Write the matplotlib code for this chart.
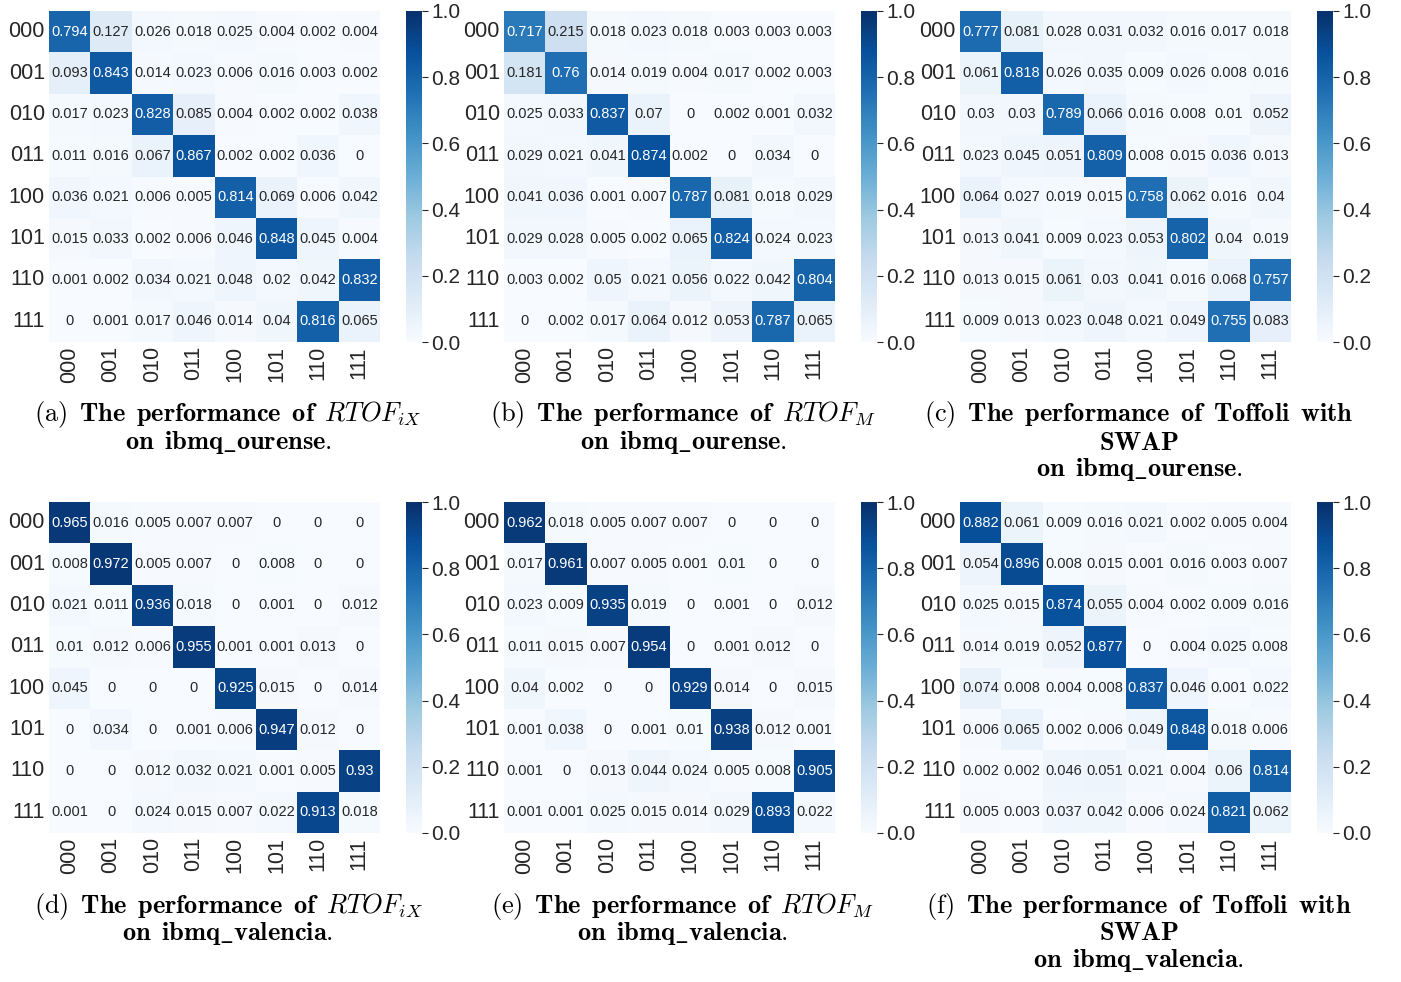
import numpy as np
import matplotlib
matplotlib.use("Agg")
import matplotlib.pyplot as plt
import seaborn as sns

states = ["000", "001", "010", "011", "100", "101", "110", "111"]

ourense_rtof_ix = [
    [0.794, 0.127, 0.026, 0.018, 0.025, 0.004, 0.002, 0.004],
    [0.093, 0.843, 0.014, 0.023, 0.006, 0.016, 0.003, 0.002],
    [0.017, 0.023, 0.828, 0.085, 0.004, 0.002, 0.002, 0.038],
    [0.011, 0.016, 0.067, 0.867, 0.002, 0.002, 0.036, 0],
    [0.036, 0.021, 0.006, 0.005, 0.814, 0.069, 0.006, 0.042],
    [0.015, 0.033, 0.002, 0.006, 0.046, 0.848, 0.045, 0.004],
    [0.001, 0.002, 0.034, 0.021, 0.048, 0.02, 0.042, 0.832],
    [0, 0.001, 0.017, 0.046, 0.014, 0.04, 0.816, 0.065],
]
ourense_rtof_m = [
    [0.717, 0.215, 0.018, 0.023, 0.018, 0.003, 0.003, 0.003],
    [0.181, 0.76, 0.014, 0.019, 0.004, 0.017, 0.002, 0.003],
    [0.025, 0.033, 0.837, 0.07, 0, 0.002, 0.001, 0.032],
    [0.029, 0.021, 0.041, 0.874, 0.002, 0, 0.034, 0],
    [0.041, 0.036, 0.001, 0.007, 0.787, 0.081, 0.018, 0.029],
    [0.029, 0.028, 0.005, 0.002, 0.065, 0.824, 0.024, 0.023],
    [0.003, 0.002, 0.05, 0.021, 0.056, 0.022, 0.042, 0.804],
    [0, 0.002, 0.017, 0.064, 0.012, 0.053, 0.787, 0.065],
]
ourense_toffoli_swap = [
    [0.777, 0.081, 0.028, 0.031, 0.032, 0.016, 0.017, 0.018],
    [0.061, 0.818, 0.026, 0.035, 0.009, 0.026, 0.008, 0.016],
    [0.03, 0.03, 0.789, 0.066, 0.016, 0.008, 0.01, 0.052],
    [0.023, 0.045, 0.051, 0.809, 0.008, 0.015, 0.036, 0.013],
    [0.064, 0.027, 0.019, 0.015, 0.758, 0.062, 0.016, 0.04],
    [0.013, 0.041, 0.009, 0.023, 0.053, 0.802, 0.04, 0.019],
    [0.013, 0.015, 0.061, 0.03, 0.041, 0.016, 0.068, 0.757],
    [0.009, 0.013, 0.023, 0.048, 0.021, 0.049, 0.755, 0.083],
]
valencia_rtof_ix = [
    [0.965, 0.016, 0.005, 0.007, 0.007, 0, 0, 0],
    [0.008, 0.972, 0.005, 0.007, 0, 0.008, 0, 0],
    [0.021, 0.011, 0.936, 0.018, 0, 0.001, 0, 0.012],
    [0.01, 0.012, 0.006, 0.955, 0.001, 0.001, 0.013, 0],
    [0.045, 0, 0, 0, 0.925, 0.015, 0, 0.014],
    [0, 0.034, 0, 0.001, 0.006, 0.947, 0.012, 0],
    [0, 0, 0.012, 0.032, 0.021, 0.001, 0.005, 0.93],
    [0.001, 0, 0.024, 0.015, 0.007, 0.022, 0.913, 0.018],
]
valencia_rtof_m = [
    [0.962, 0.018, 0.005, 0.007, 0.007, 0, 0, 0],
    [0.017, 0.961, 0.007, 0.005, 0.001, 0.01, 0, 0],
    [0.023, 0.009, 0.935, 0.019, 0, 0.001, 0, 0.012],
    [0.011, 0.015, 0.007, 0.954, 0, 0.001, 0.012, 0],
    [0.04, 0.002, 0, 0, 0.929, 0.014, 0, 0.015],
    [0.001, 0.038, 0, 0.001, 0.01, 0.938, 0.012, 0.001],
    [0.001, 0, 0.013, 0.044, 0.024, 0.005, 0.008, 0.905],
    [0.001, 0.001, 0.025, 0.015, 0.014, 0.029, 0.893, 0.022],
]
valencia_toffoli_swap = [
    [0.882, 0.061, 0.009, 0.016, 0.021, 0.002, 0.005, 0.004],
    [0.054, 0.896, 0.008, 0.015, 0.001, 0.016, 0.003, 0.007],
    [0.025, 0.015, 0.874, 0.055, 0.004, 0.002, 0.009, 0.016],
    [0.014, 0.019, 0.052, 0.877, 0, 0.004, 0.025, 0.008],
    [0.074, 0.008, 0.004, 0.008, 0.837, 0.046, 0.001, 0.022],
    [0.006, 0.065, 0.002, 0.006, 0.049, 0.848, 0.018, 0.006],
    [0.002, 0.002, 0.046, 0.051, 0.021, 0.004, 0.06, 0.814],
    [0.005, 0.003, 0.037, 0.042, 0.006, 0.024, 0.821, 0.062],
]

sp = r"\ \,"  # wide inter-word space, like the justified LaTeX captions
captions = [
    [rf"$\mathrm{{(a)}}{sp}\mathbf{{The{sp}performance{sp}of}}{sp}RTOF_{{iX}}$",
     rf"$\mathbf{{on{sp}ibmq\_ourense.}}$"],
    [rf"$\mathrm{{(b)}}{sp}\mathbf{{The{sp}performance{sp}of}}{sp}RTOF_{{M}}$",
     rf"$\mathbf{{on{sp}ibmq\_ourense.}}$"],
    [rf"$\mathrm{{(c)}}{sp}\mathbf{{The{sp}performance{sp}of{sp}Toffoli{sp}with}}$",
     r"$\mathbf{SWAP}$",
     rf"$\mathbf{{on{sp}ibmq\_ourense.}}$"],
    [rf"$\mathrm{{(d)}}{sp}\mathbf{{The{sp}performance{sp}of}}{sp}RTOF_{{iX}}$",
     rf"$\mathbf{{on{sp}ibmq\_valencia.}}$"],
    [rf"$\mathrm{{(e)}}{sp}\mathbf{{The{sp}performance{sp}of}}{sp}RTOF_{{M}}$",
     rf"$\mathbf{{on{sp}ibmq\_valencia.}}$"],
    [rf"$\mathrm{{(f)}}{sp}\mathbf{{The{sp}performance{sp}of{sp}Toffoli{sp}with}}$",
     r"$\mathbf{SWAP}$",
     rf"$\mathbf{{on{sp}ibmq\_valencia.}}$"],
]

matrices = [ourense_rtof_ix, ourense_rtof_m, ourense_toffoli_swap,
            valencia_rtof_ix, valencia_rtof_m, valencia_toffoli_swap]

plt.rcParams['font.family'] = ['Liberation Sans', 'DejaVu Sans']
plt.rcParams['mathtext.fontset'] = 'cm'

W, H = 1401, 982
fig = plt.figure(figsize=(W / 100, H / 100), dpi=100)

# pixel layout of each panel (heatmap left edge, top edge)
lefts = [49, 504, 960]
tops = [11, 502]
size = 331
cap_x = [228, 683, 1139]

for k, mat in enumerate(matrices):
    r, c = divmod(k, 3)
    x0, y0 = lefts[c], tops[r]
    ax = fig.add_axes([x0 / W, 1 - (y0 + size) / H, size / W, size / H])
    cax = fig.add_axes([(x0 + size + 26) / W, 1 - (y0 + size) / H, 16 / W, size / H])
    sns.heatmap(np.array(mat), ax=ax, cbar_ax=cax, cmap="Blues", vmin=0, vmax=1,
                annot=True, fmt="g", annot_kws={"fontsize": 10.5},
                xticklabels=states, yticklabels=states)
    ax.tick_params(length=0, labelsize=15.5, colors="#262626", pad=3)
    ax.set_yticklabels(states, rotation=0)
    ax.set_xticklabels(states, rotation=90)
    cax.tick_params(labelsize=15, length=4, width=0.8, colors="#262626", pad=2.5)
    cax.set_yticks([0, 0.2, 0.4, 0.6, 0.8, 1.0])
    cax.set_yticklabels(["0.0", "0.2", "0.4", "0.6", "0.8", "1.0"])

    for i, line in enumerate(captions[k]):
        fig.text(cap_x[c] / W, 1 - (y0 + 404 + 27.5 * i) / H, line,
                 ha="center", va="center", fontsize=19, color="black")

fig.savefig("out.png", dpi=100)
